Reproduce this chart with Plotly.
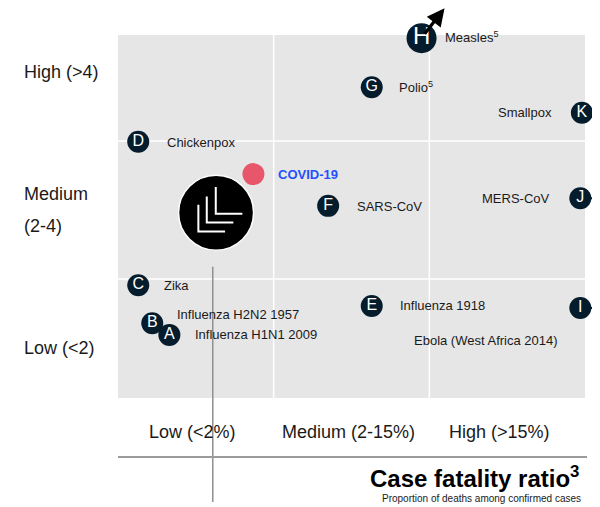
import plotly.graph_objects as go

# ---------------- data ----------------
letters = ["A", "B", "C", "D", "E", "F", "G", "H", "I", "J", "K"]
diseases = ["Influenza H1N1 2009", "Influenza H2N2 1957", "Zika", "Chickenpox",
            "Influenza 1918", "SARS-CoV", "Polio<sup>5</sup>", "Measles<sup>5</sup>",
            "Ebola (West Africa 2014)", "MERS-CoV", "Smallpox"]
# position on case-fatality axis (0-1 low, 1-2 medium, 2-3 high)
case_fatality = [0.33, 0.22, 0.13, 0.13, 1.63, 1.35, 1.63, 1.95, 2.97, 2.97, 2.98]
# transmissibility (R0-like scale; bands <2, 2-4, >4)
transmissibility = [1.19, 1.36, 1.91, 3.99, 1.61, 3.06, 4.78, 5.49, 1.58, 3.17, 4.41]
beyond_right = ["I", "J"]   # off the chart to the right
beyond_top = ["H"]          # off the chart to the top

covid_name = "COVID-19"
covid_cfr = 0.87
covid_transmissibility = 3.52

x_tick_labels = ["Low (<2%)", "Medium (2-15%)", "High (>15%)"]
y_tick_labels = ["Low (<2)", "Medium<br>(2-4)", "High (>4)"]
y_tick_values = [1, 3, 5]
x_title = "Case fatality ratio<sup>3</sup>"
x_subtitle = "Proportion of deaths among confirmed cases"

# ---------------- layout constants ----------------
OFF = 8                    # page body margin
W, H = 600 - OFF, 507 - OFF
PXX = 155.667              # pixels per x unit
PXY = 69.0                 # pixels per y unit
X0PX, Y0PX = 118.0 - OFF, 417.0 - OFF
XR = [-X0PX / PXX, (W - X0PX) / PXX]
YR = [(Y0PX - H) / PXY, Y0PX / PXY]


def ypx(p):   # page pixel row -> y data
    return (Y0PX - (p - OFF)) / PXY


def xpx(p):   # page pixel column -> x data
    return ((p - OFF) - X0PX) / PXX


def dx(px):
    return px / PXX


def dy(px):
    return px / PXY


GRAY_Y = [ypx(398), ypx(35)]
NAVY = "#051c2c"
FONT = "Liberation Sans, Arial, sans-serif"
TXT = "#1a1a1a"

# label offsets (pixels) relative to marker centers: (dx, dy_down, anchor)
label_offsets = {
    "A": (24, 0, "left"), "B": (23, -9, "left"), "C": (24, 0, "left"),
    "D": (27, 1, "left"), "E": (26, 0, "left"), "F": (27, 1, "left"),
    "G": (25, 0, "left"), "H": (21, -1, "left"), "I": (-20, 33, "right"),
    "J": (-28, 0, "right"), "K": (-28, 0, "right"),
}

fig = go.Figure()

shapes = []
shapes.append(dict(type="rect", xref="x", yref="y", x0=0, x1=3, y0=GRAY_Y[0], y1=GRAY_Y[1],
                   fillcolor="#e6e6e6", line=dict(width=0), layer="below"))
for xv in [1, 2]:
    shapes.append(dict(type="line", xref="x", yref="y", x0=xv, x1=xv, y0=GRAY_Y[0], y1=GRAY_Y[1],
                       line=dict(color="white", width=1.5), layer="below"))
for yv in [2, 4]:
    shapes.append(dict(type="line", xref="x", yref="y", x0=0, x1=3, y0=yv, y1=yv,
                       line=dict(color="white", width=1.5), layer="below"))

# logo + decorative lines
LOGO_X, LOGO_Y = 0.63, 2.96
shapes.append(dict(type="line", xref="x", yref="y", x0=LOGO_X - dx(3.3), x1=LOGO_X - dx(3.3),
                   y0=LOGO_Y - dy(54), y1=ypx(502),
                   line=dict(color="#8f8f8f", width=1.5), layer="below"))
shapes.append(dict(type="line", xref="x", yref="y", x0=0, x1=xpx(587),
                   y0=ypx(457), y1=ypx(457),
                   line=dict(color="#9b9b9b", width=2), layer="below"))

fig.add_trace(go.Scatter(x=[LOGO_X], y=[LOGO_Y], mode="markers", hoverinfo="skip",
                         cliponaxis=False, opacity=1,
                         marker=dict(size=75, color="black", opacity=1,
                                     line=dict(color="white", width=1.5)),
                         showlegend=False))
for (vx, vy0, vy1, hx1) in [(-17.7, -8, 18.7, 9), (-9.3, -16.3, 9.7, 17.3), (-0.3, -25.7, 1, 26.3)]:
    xa = LOGO_X + dx(vx)
    ya = LOGO_Y - dy(vy0)
    yb = LOGO_Y - dy(vy1)
    xb = LOGO_X + dx(hx1)
    shapes.append(dict(type="path", xref="x", yref="y",
                       path=f"M {xa} {ya} L {xa} {yb} L {xb} {yb}",
                       line=dict(color="white", width=2)))

# off-chart connectors (I, J)
idx_r = [letters.index(l) for l in beyond_right]
fig.add_trace(go.Scatter(
    x=[case_fatality[i] for i in idx_r], y=[transmissibility[i] for i in idx_r],
    mode="markers", marker=dict(size=2, color=NAVY), hoverinfo="skip", showlegend=False,
    cliponaxis=False,
    error_x=dict(type="data", symmetric=False, array=[dx(18)] * len(idx_r),
                 arrayminus=[0] * len(idx_r), color=NAVY, thickness=2, width=6)))

# disease markers
sizes = [30 if l in beyond_top else 22 for l in letters]
tsize = [24 if l in beyond_top else 16 for l in letters]
fig.add_trace(go.Scatter(
    x=case_fatality, y=transmissibility, mode="markers+text", text=letters,
    textposition="middle center", textfont=dict(color="white", size=tsize, family=FONT),
    marker=dict(size=sizes, color=NAVY, opacity=1, line=dict(width=0)),
    opacity=1, cliponaxis=False,
    hovertext=diseases, hoverinfo="text", showlegend=False))

# COVID
fig.add_trace(go.Scatter(x=[covid_cfr], y=[covid_transmissibility], mode="markers",
                         marker=dict(size=22, color="#e8566c", opacity=1), hovertext=[covid_name],
                         cliponaxis=False, hoverinfo="text", showlegend=False))

annotations = []
for l, name, xv, yv in zip(letters, diseases, case_fatality, transmissibility):
    ox, oy, anc = label_offsets[l]
    annotations.append(dict(x=xv, y=yv, xref="x", yref="y", text=name, showarrow=False,
                            xanchor=anc, yanchor="middle", xshift=ox, yshift=-oy,
                            font=dict(size=13, color=TXT, family=FONT)))
annotations.append(dict(x=covid_cfr, y=covid_transmissibility, xref="x", yref="y",
                        text=f"<b>{covid_name}</b>", showarrow=False, xanchor="left",
                        yanchor="middle", xshift=23, font=dict(size=13, color="#2251ff", family=FONT)))

# measles arrow
for l in beyond_top:
    i = letters.index(l)
    annotations.append(dict(x=case_fatality[i] + dx(23), y=transmissibility[i] + dy(30),
                            ax=case_fatality[i] + dx(2), ay=transmissibility[i] + dy(3),
                            xref="x", yref="y", axref="x", ayref="y", text="",
                            showarrow=True, arrowhead=2, arrowsize=1.1, arrowwidth=3.2,
                            arrowcolor="black"))

# y labels
for lab, yv in zip(y_tick_labels, y_tick_values):
    lines = lab.split("<br>")
    n = len(lines)
    for k, ln in enumerate(lines):
        annotations.append(dict(x=xpx(22), xref="x", y=yv, yref="y", text=ln, showarrow=False,
                                xanchor="left", yanchor="middle", yshift=-(k - (n - 1) / 2) * 32,
                                font=dict(size=18, color=TXT, family=FONT)))

# x labels
x_tick_pos = [0.48, 1.48, 2.45]
for lab, xv in zip(x_tick_labels, x_tick_pos):
    annotations.append(dict(x=xv, y=ypx(432), xref="x", yref="y", text=lab,
                            showarrow=False, xanchor="center", yanchor="middle",
                            font=dict(size=18, color=TXT, family=FONT)))

annotations.append(dict(x=xpx(581), y=ypx(477), xref="x", yref="y",
                        text=f"<b>{x_title}</b>", showarrow=False, xanchor="right",
                        yanchor="middle", font=dict(size=24, color="black", family=FONT)))
annotations.append(dict(x=xpx(583), y=ypx(498), xref="x", yref="y",
                        text=x_subtitle, showarrow=False, xanchor="right",
                        yanchor="middle", font=dict(size=10, color=TXT, family=FONT)))

fig.update_layout(
    width=W, height=H, margin=dict(l=0, r=0, t=0, b=0),
    paper_bgcolor="white", plot_bgcolor="white",
    xaxis=dict(range=XR, visible=False, fixedrange=True),
    yaxis=dict(range=YR, visible=False, fixedrange=True),
    shapes=shapes, annotations=annotations, showlegend=False,
)

fig.write_html("out.html")
